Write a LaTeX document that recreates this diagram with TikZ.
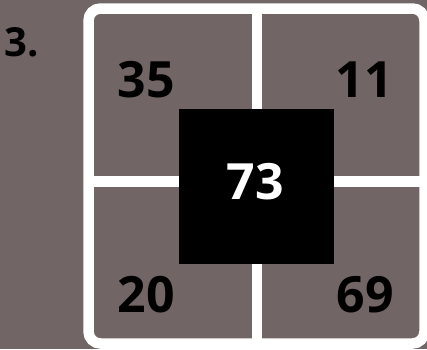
\documentclass[tikz,border=0pt]{standalone}
\usepackage{fontspec}
\setmainfont{Open Sans}
\definecolor{bgc}{HTML}{716565}
\tikzset{
  num/.style={font=\fontsize{50}{50}\selectfont\bfseries, text=black, inner sep=0pt, anchor=base},
  frame/.style={draw=white, line width=10.5pt, rounded corners=12pt},
  divider/.style={draw=white, line width=10.5pt}
}
\begin{document}
\begin{tikzpicture}[x=1pt,y=-1pt]
\useasboundingbox (0,0) rectangle (427,349);
\fill[bgc] (0,0) rectangle (427,349);
\coordinate (tl) at (88.5,8.5);
\coordinate (br) at (424.5,343.5);
\coordinate (vt) at (257,8.5);
\coordinate (vb) at (257,343.5);
\coordinate (hl) at (88.5,181.5);
\coordinate (hr) at (424.5,181.5);
\draw[divider] (vt) -- (vb);
\draw[divider] (hl) -- (hr);
\draw[frame] (tl) rectangle (br);
\node[fill=black, minimum size=155pt, inner sep=0pt, anchor=north west] (sq) at (179,109) {};
\node[num] (n35) at (146,97.5) {35};
\node[num] (n11) at (364.5,97) {11};
\node[num] (n20) at (146.5,312) {20};
\node[num] (n69) at (365.5,312.5) {69};
\node[num, text=white] (n73) at (255.5,199.5) {73};
\node[font=\fontsize{40}{40}\selectfont\bfseries, inner sep=0pt, anchor=base west] (lbl) at (4,56) {3.};
\end{tikzpicture}
\end{document}
